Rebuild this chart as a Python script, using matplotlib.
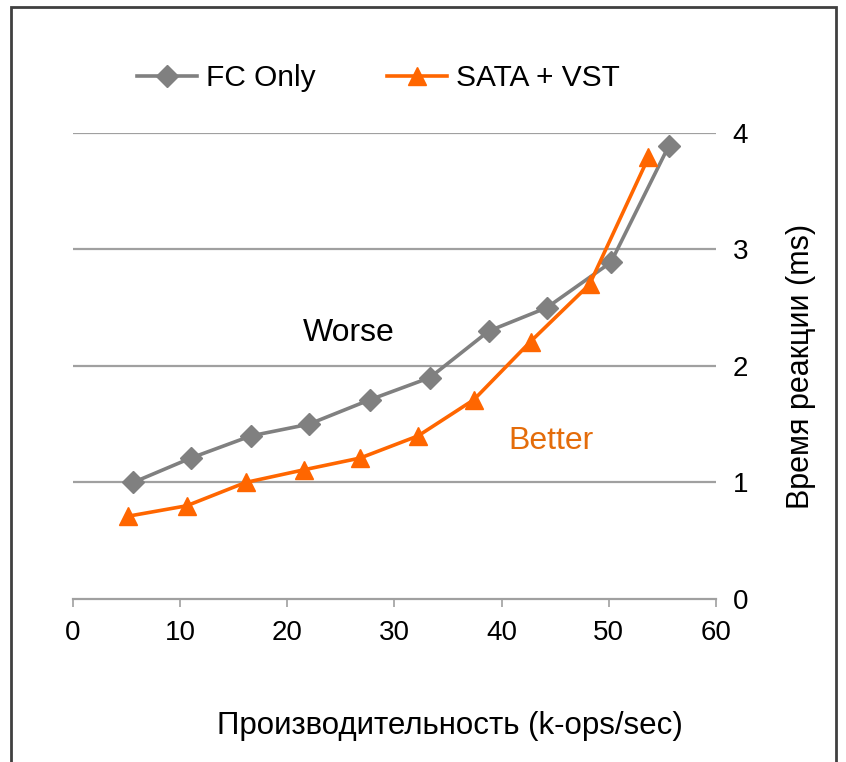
import matplotlib.pyplot as plt
from matplotlib.patches import Rectangle

plt.rcParams['font.family'] = ['Liberation Sans', 'DejaVu Sans']

# k-ops/sec vs response time (ms)
fc_x = [5.6, 11.0, 16.6, 22.0, 27.7, 33.3, 38.8, 44.2, 50.2, 55.6]
fc_y = [1.00, 1.21, 1.40, 1.50, 1.71, 1.90, 2.30, 2.50, 2.89, 3.89]
sata_x = [5.1, 10.6, 16.1, 21.6, 26.8, 32.2, 37.4, 42.7, 48.2, 53.7]
sata_y = [0.71, 0.80, 1.00, 1.11, 1.21, 1.40, 1.71, 2.21, 2.70, 3.79]

x_ticks = [0, 10, 20, 30, 40, 50, 60]
y_ticks = [0, 1, 2, 3, 4]

fig = plt.figure(figsize=(8.46, 7.62), dpi=100)
ax = fig.add_axes([0.0863, 0.2139, 0.76, 0.6116])

grid_col = '#a0a0a0'
for v in y_ticks[1:]:
    ax.axhline(v, color=grid_col, lw=1.6, zorder=1)

ax.plot(fc_x, fc_y, color='#808080', lw=2.6, marker='D', ms=11,
        label='FC Only', zorder=3)
ax.plot(sata_x, sata_y, color='#ff6600', lw=2.6, marker='^', ms=13,
        label='SATA + VST', zorder=3)

ax.set_xlim(0, 60)
ax.set_ylim(0, 4)
ax.set_xticks(x_ticks)
ax.set_yticks(y_ticks)
ax.yaxis.tick_right()
ax.yaxis.set_label_position('right')

for s in ['top', 'left', 'right']:
    ax.spines[s].set_visible(False)
ax.spines['bottom'].set_color(grid_col)
ax.spines['bottom'].set_linewidth(1.6)
ax.tick_params(axis='x', colors=grid_col, length=6, width=1.2,
               labelcolor='black', labelsize=20, pad=9)
ax.tick_params(axis='y', length=0, labelsize=20, pad=12)

ax.set_xlabel('Производительность (k-ops/sec)', fontsize=22.5)
ax.xaxis.set_label_coords(0.586, -0.241)
ax.set_ylabel('Время реакции (ms)', fontsize=22, labelpad=27)

ax.text(25.7, 2.28, 'Worse', fontsize=23, color='black', ha='center', va='center')
ax.text(44.6, 1.36, 'Better', fontsize=23, color='#e46c0a', ha='center', va='center')

fig.legend(loc='center', bbox_to_anchor=(0.447, 0.897), ncol=2, frameon=False,
           fontsize=21.5, handlelength=2.0, handletextpad=0.3, columnspacing=2.4)

fig.patches.append(Rectangle((11 / 846, -0.05), 825 / 846, 1.05 - 7 / 762,
                             transform=fig.transFigure, fill=False,
                             edgecolor='#404040', lw=2))

fig.savefig('out.png', dpi=100)
